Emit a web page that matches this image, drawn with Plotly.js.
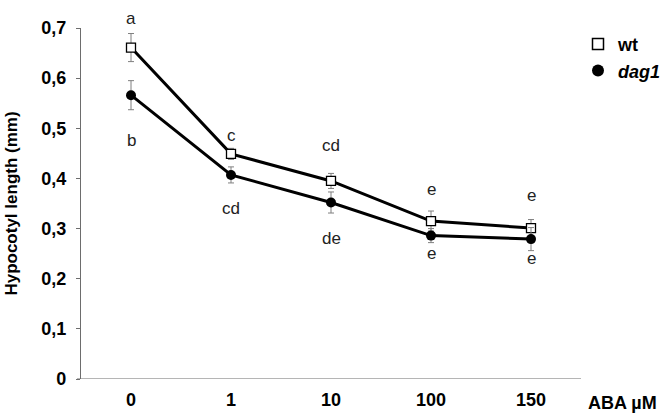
<!DOCTYPE html>
<html><head><meta charset="utf-8">
<script src="https://cdn.plot.ly/plotly-3.0.1.min.js"></script>
<style>body{margin:0;background:#fff}#c{width:666px;height:414px}</style>
</head><body><div id="c"></div>
<script>
var categories = ["0", "1", "10", "100", "150"];
var wtValues = [0.661, 0.449, 0.395, 0.315, 0.301];
var wtErrors = [0.028, 0.011, 0.015, 0.02, 0.017];
var dagValues = [0.566, 0.407, 0.352, 0.286, 0.279];
var dagErrors = [0.029, 0.016, 0.021, 0.014, 0.023];
var yTickVals = [0, 0.1, 0.2, 0.3, 0.4, 0.5, 0.6, 0.7];
var yTickText = ["0", "0,1", "0,2", "0,3", "0,4", "0,5", "0,6", "0,7"];
var letterCat = ["0", "0", "1", "1", "10", "10", "100", "100", "150", "150"];
var letterY = [0.742, 0.498, 0.509, 0.341, 0.465, 0.28, 0.378, 0.227, 0.365, 0.218];
var letterText = ["a", "b", "c", "cd", "cd", "de", "e", "e", "e", "e"];
var yMax = 0.7;

var font = "Liberation Sans, Arial, sans-serif";
var errStyle = {color: "#7f7f7f", thickness: 1, width: 3};
function err(arr) { return Object.assign({type: "data", array: arr, visible: true}, errStyle); }
var wtMarker = {symbol: "square", size: 9, color: "#fff", line: {color: "#000", width: 1.3}};
var dagMarker = {symbol: "circle", size: 10, color: "#000"};
var traces = [
  {x: categories, y: wtValues, type: "scatter", mode: "lines+markers", showlegend: false,
   line: {color: "#000", width: 3}, marker: wtMarker, error_y: err(wtErrors), cliponaxis: false},
  {x: categories, y: dagValues, type: "scatter", mode: "lines+markers", showlegend: false,
   line: {color: "#000", width: 3}, marker: dagMarker, error_y: err(dagErrors), cliponaxis: false},
  {x: [null], y: [null], type: "scatter", mode: "markers", name: "<b>wt</b>",
   marker: {symbol: "square", size: 11, color: "#fff", line: {color: "#000", width: 1.5}}},
  {x: [null], y: [null], type: "scatter", mode: "markers", name: "<b><i>dag1</i></b>",
   marker: {symbol: "circle", size: 12, color: "#000"}}
];
var annotations = letterText.map(function(t, i) {
  return {x: categories.indexOf(letterCat[i]), y: letterY[i] / yMax, xref: "x", yref: "paper",
          text: t, showarrow: false, font: {family: font, size: 17, color: "#222"}};
});
annotations.push({x: 1, y: 0, xref: "paper", yref: "paper", xanchor: "left", yanchor: "top",
  xshift: 5, yshift: -12, text: "<b>ABA µM</b>", showarrow: false,
  font: {family: font, size: 18, color: "#000"}});
var layout = {
  width: 666, height: 414,
  margin: {l: 81, r: 85, t: 28, b: 35, autoexpand: false},
  paper_bgcolor: "#fff", plot_bgcolor: "#fff",
  showlegend: true,
  legend: {x: 0.994, y: 1.006, xanchor: "left", yanchor: "top", bgcolor: "rgba(0,0,0,0)",
           font: {family: font, size: 18, color: "#000"}, itemwidth: 30, tracegroupgap: 0},
  xaxis: {type: "category", range: [-0.5, 4.5], showgrid: false, zeroline: false, automargin: false,
          showline: false, ticks: "", tickfont: {family: font, size: 18, color: "#000", weight: "bold"},
          ticklabelstandoff: 8},
  yaxis: {range: [0, yMax], tickvals: yTickVals, ticktext: yTickText, showgrid: false, automargin: false,
          zeroline: false, showline: true, linecolor: "#6d6d6d", linewidth: 1.2,
          ticks: "outside", ticklen: 4, tickcolor: "#6d6d6d", ticklabelstandoff: 6,
          tickfont: {family: font, size: 18, color: "#000", weight: "bold"},
          title: {text: "<b>Hypocotyl length (mm)</b>", standoff: 19,
                  font: {family: font, size: 17, color: "#000"}}},
  shapes: [{type: "line", xref: "paper", yref: "y", x0: -0.008, x1: 1, y0: 0, y1: 0,
            line: {color: "#6d6d6d", width: 1.2}}],
  annotations: annotations
};
Plotly.newPlot("c", traces, layout, {displayModeBar: false, staticPlot: true});
</script></body></html>
